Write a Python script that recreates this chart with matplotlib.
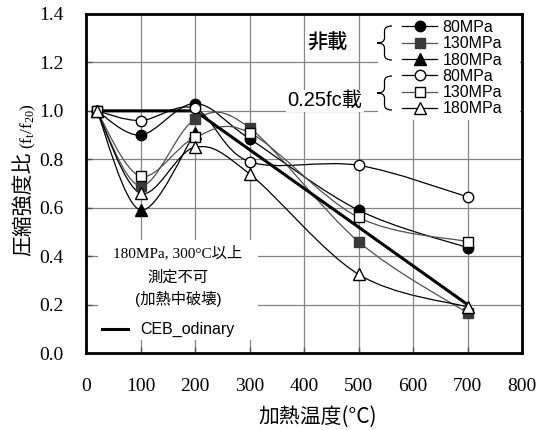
import numpy as np
import matplotlib.pyplot as plt
from matplotlib.lines import Line2D
from matplotlib.patches import PathPatch, Rectangle
from matplotlib.path import Path

plt.rcParams['mathtext.fontset'] = 'custom'
plt.rcParams['mathtext.rm'] = 'Liberation Serif'
plt.rcParams['mathtext.it'] = 'Liberation Serif'

# heating temperature (deg C)
temps = [20, 100, 200, 300, 500, 700]
temps_180 = [20, 100, 200]   # 180MPa unloaded: no data from 300C on

# residual strength ratio ft/f20, unloaded
plain_80 = [1.00, 0.90, 1.03, 0.885, 0.59, 0.435]
plain_130 = [1.00, 0.69, 0.965, 0.93, 0.46, 0.165]
plain_180 = [1.00, 0.59, 0.91]

# residual strength ratio ft/f20, loaded at 0.25fc
load_80 = [1.00, 0.96, 1.01, 0.79, 0.775, 0.645]
load_130 = [1.00, 0.73, 0.89, 0.91, 0.56, 0.46]
load_180 = [1.00, 0.66, 0.85, 0.74, 0.325, 0.19]

# CEB model curve (ordinary concrete)
ceb_temps = [20, 200, 700]
ceb_ratio = [1.0, 1.0, 0.2]

labels = ['80MPa', '130MPa', '180MPa', '80MPa', '130MPa', '180MPa']

W, H = 547, 430
fig = plt.figure(figsize=(W / 100, H / 100), dpi=100)
ax = fig.add_axes([86 / W, 1 - 353 / H, (522 - 86) / W, (353 - 14) / H])


def px(x, y):
    return (x / W, 1 - y / H)


def smooth_path(xs, ys):
    # excel-like smoothed line through the points (cubic bezier segments)
    pts = np.column_stack([xs, ys]).astype(float)
    ext = np.vstack([pts[0], pts, pts[-1]])
    verts = [pts[0]]
    codes = [Path.MOVETO]
    for i in range(1, len(ext) - 2):
        p0, p1, p2, p3 = ext[i - 1], ext[i], ext[i + 1], ext[i + 2]
        verts += [p1 + (p2 - p0) / 6, p2 - (p3 - p1) / 6, p2]
        codes += [Path.CURVE4] * 3
    return Path(verts, codes)


dark = '#3a3a3a'
gline = '#505050'
series = [
    (temps, plain_80, 'o', 'black', 'black', 'black', 7.5),
    (temps, plain_130, 's', dark, dark, gline, 7),
    (temps_180, plain_180, '^', 'black', 'black', 'black', 8),
    (temps, load_80, 'o', 'white', 'black', 'black', 7.5),
    (temps, load_130, 's', 'white', 'black', gline, 7),
    (temps, load_180, '^', 'white', 'black', 'black', 8.5),
]

handles = []
for x, y, m, fc, ec, lc, ms in series:
    ax.add_patch(PathPatch(smooth_path(x, y), fill=False, ec=lc, lw=0.9, zorder=3))
    ax.plot(x, y, ls='none', marker=m, ms=ms, mfc=fc, mec=ec, mew=1, zorder=4)
    handles.append(Line2D([], [], color=lc, lw=0.9, marker=m, ms=ms,
                          mfc=fc, mec=ec, mew=1))

ax.plot(ceb_temps, ceb_ratio, color='black', lw=2.2, zorder=3.5)

ax.set_xlim(0, 800)
ax.set_ylim(0, 1.4)
ax.set_xticks(range(0, 801, 100))
ax.set_yticks(np.arange(0, 1.41, 0.2))
ax.set_yticklabels(['%.1f' % v for v in np.arange(0, 1.41, 0.2)])
ax.tick_params(direction='in', length=4, width=1, labelsize=14, color='#555555')
ax.tick_params(axis='x', pad=18)
ax.tick_params(axis='y', pad=16)
for lab in ax.get_xticklabels() + ax.get_yticklabels():
    lab.set_fontfamily('Liberation Serif')
ax.grid(True, color='#858585', lw=0.9)
ax.set_axisbelow(True)
for s in ax.spines.values():
    s.set_linewidth(2)

# axis titles
fig.text(*px(318, 417), '加熱温度(°C)', ha='center', va='center',
         fontsize=15, family=['Noto Sans CJK JP', 'DejaVu Sans'])
fig.text(*px(23, 204), '圧縮強度比', ha='center', va='center', rotation=90,
         fontsize=15, family=['Noto Sans CJK JP'])
fig.text(*px(28, 126), r'$\mathrm{(f_t/f_{20})}$', ha='center', va='center',
         rotation=90, fontsize=12.5)

# legend block with braces
ax.add_patch(Rectangle(px(378, 120), 142 / W, 105 / H, transform=fig.transFigure,
                       fc='white', ec='none', zorder=2))
leg = ax.legend(handles, labels, loc='upper left', bbox_to_anchor=px(402, 20),
                bbox_transform=fig.transFigure, frameon=False,
                prop={'family': 'Liberation Sans', 'size': 11.5},
                handlelength=2.2, handletextpad=0.35, labelspacing=0.08,
                borderpad=0, borderaxespad=0)

box = dict(fc='white', ec='none', pad=1)
ax.text(*px(327, 43), '非載', transform=fig.transFigure, ha='center', va='center',
        fontsize=14.5, weight='medium', family=['Noto Sans CJK JP'], bbox=box,
        zorder=2.5)
ax.text(*px(325, 101), '0.25fc載', transform=fig.transFigure, ha='center',
        va='center', fontsize=14.5, family=['Liberation Sans', 'Noto Sans CJK JP'],
        bbox=box, zorder=2.5)


def brace(x_tip, x_end, y_top, y_bot):
    xm = (x_tip + x_end) / 2
    ym = (y_top + y_bot) / 2
    r = 5
    pts = [(x_end, y_top), (xm, y_top), (xm, y_top + r), (xm, ym - r),
           (xm, ym), (x_tip, ym), (xm, ym), (xm, ym + r), (xm, y_bot - r),
           (xm, y_bot), (x_end, y_bot)]
    codes = [Path.MOVETO, Path.CURVE3, Path.CURVE3, Path.LINETO,
             Path.CURVE3, Path.CURVE3, Path.CURVE3, Path.CURVE3, Path.LINETO,
             Path.CURVE3, Path.CURVE3]
    path = Path([px(*p) for p in pts], codes)
    ax.add_patch(PathPatch(path, fill=False, ec='black', lw=0.9,
                           transform=fig.transFigure, zorder=3, clip_on=False))


brace(377, 392, 26, 60)
brace(377, 392, 76, 110)

# note box in the lower left
ax.add_patch(Rectangle(px(98, 340), 160 / W, 100 / H, transform=fig.transFigure,
                       fc='white', ec='none', zorder=2))
ax.text(*px(178, 253), '180MPa, 300°C以上', transform=fig.transFigure,
        ha='center', va='center', fontsize=11,
        family=['Liberation Serif', 'Noto Sans CJK JP'], zorder=2.5)
ax.text(*px(178, 277), '測定不可', transform=fig.transFigure, ha='center',
        va='center', fontsize=11, family=['Noto Sans CJK JP'], zorder=2.5)
ax.text(*px(178, 299), '(加熱中破壊)', transform=fig.transFigure, ha='center',
        va='center', fontsize=11, family=['Liberation Sans', 'Noto Sans CJK JP'],
        zorder=2.5)
ax.add_line(Line2D([102 / W, 128 / W], [1 - 329 / H] * 2, transform=fig.transFigure,
                   color='black', lw=2.2, zorder=2.5))
ax.text(*px(140, 329), 'CEB_odinary', transform=fig.transFigure, ha='left',
        va='center', fontsize=11.5, family='Liberation Sans', zorder=2.5)

fig.savefig('out.png', dpi=100)
